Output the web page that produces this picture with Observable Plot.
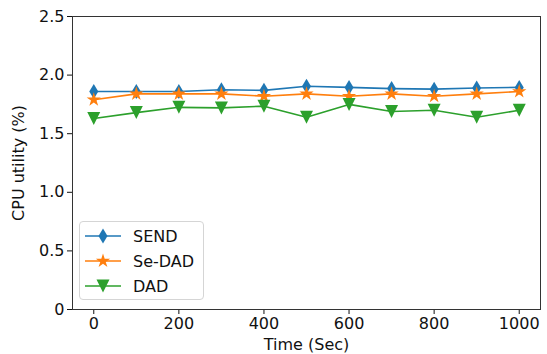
<!DOCTYPE html>
<html>
<head>
<meta charset="utf-8">
<script src="https://cdn.jsdelivr.net/npm/d3@7"></script>
<script src="https://cdn.jsdelivr.net/npm/@observablehq/plot@0.6"></script>
<style>
  body { margin: 0; background: #fff; }
  #wrap { position: relative; width: 547px; height: 354px; font-family: "DejaVu Sans", sans-serif; }
  #legend { position: absolute; left: 79px; top: 221px; width: 123px; height: 77px;
    border: 1px solid #d5d5d5; border-radius: 4px; background: rgba(255,255,255,0.85); }
  .item { position: absolute; left: 0; height: 24px; display: flex; align-items: center; font-size: 16px; color: #111; }
  .item svg { margin-left: 5px; margin-right: 12px; }
</style>
</head>
<body>
<div id="wrap"><div id="legend"></div></div>
<script>
const times = [0, 100, 200, 300, 400, 500, 600, 700, 800, 900, 1000];
const send  = [1.86, 1.86, 1.86, 1.875, 1.87, 1.905, 1.895, 1.885, 1.88, 1.89, 1.895];
const seDad = [1.79, 1.84, 1.84, 1.84, 1.82, 1.84, 1.82, 1.84, 1.82, 1.84, 1.86];
const dad   = [1.63, 1.68, 1.725, 1.72, 1.735, 1.64, 1.75, 1.69, 1.70, 1.64, 1.70];
const seriesNames = ["SEND", "Se-DAD", "DAD"];
const colors = ["#1f77b4", "#ff7f0e", "#2ca02c"];
const xTicks = [0, 200, 400, 600, 800, 1000];
const yTicks = [0, 0.5, 1.0, 1.5, 2.0, 2.5];

// custom marker shapes (matplotlib-like)
const thinDiamond = { draw(ctx, size) { const r = Math.sqrt(size / Math.PI);
  ctx.moveTo(0, -r); ctx.lineTo(0.6 * r, 0); ctx.lineTo(0, r); ctx.lineTo(-0.6 * r, 0); ctx.closePath(); } };
const star5 = { draw(ctx, size) { const r = Math.sqrt(size / Math.PI); const ri = r * 0.381966;
  for (let i = 0; i < 10; i++) { const a = -Math.PI / 2 + i * Math.PI / 5; const rr = i % 2 ? ri : r;
    const x = rr * Math.cos(a), y = rr * Math.sin(a); i ? ctx.lineTo(x, y) : ctx.moveTo(x, y); } ctx.closePath(); } };
const triDown = { draw(ctx, size) { const r = Math.sqrt(size / Math.PI);
  ctx.moveTo(0, r); ctx.lineTo(-r, -r); ctx.lineTo(r, -r); ctx.closePath(); } };
const symbols = [thinDiamond, star5, triDown];
const radii = [7.5, 7.5, 6.5];

const allValues = [send, seDad, dad];
const rows = [];
seriesNames.forEach((s, i) => times.forEach((t, j) => rows.push({ time: t, value: allValues[i][j], series: s })));

const marks = [];
seriesNames.forEach((s, i) => {
  const d = rows.filter(r => r.series === s);
  marks.push(Plot.line(d, { x: "time", y: "value", stroke: colors[i], strokeWidth: 1.6 }));
  marks.push(Plot.dot(d, { x: "time", y: "value", fill: colors[i], stroke: "none", symbol: symbols[i], r: radii[i] }));
});
marks.push(Plot.axisX({ ticks: xTicks, tickSize: 5, tickPadding: 3, tickFormat: d => String(d),
  label: "Time (Sec)", labelAnchor: "center", labelArrow: "none", labelOffset: 40 }));
marks.push(Plot.axisY({ ticks: yTicks, tickSize: 5, tickPadding: 3, tickFormat: d => d === 0 ? "0" : d.toFixed(1),
  label: "CPU utility (%)", labelAnchor: "center", labelArrow: "none", labelOffset: 60 }));
marks.push(Plot.frame({ stroke: "#333", strokeWidth: 1 }));

const chart = Plot.plot({
  width: 547, height: 354,
  marginLeft: 72, marginRight: 7, marginTop: 16, marginBottom: 45,
  x: { domain: [-50, 1050] },
  y: { domain: [0, 2.5] },
  style: { fontFamily: "DejaVu Sans, sans-serif", fontSize: "16px", color: "#111", background: "#fff" },
  marks
});
document.getElementById("wrap").prepend(chart);

// legend
const legend = document.getElementById("legend");
seriesNames.forEach((s, i) => {
  const item = document.createElement("div");
  item.className = "item";
  item.style.top = (2 + i * 25) + "px";
  const svg = d3.create("svg").attr("width", 36).attr("height", 20);
  svg.append("line").attr("x1", 0).attr("x2", 36).attr("y1", 10).attr("y2", 10).attr("stroke", colors[i]).attr("stroke-width", 1.6);
  svg.append("path").attr("transform", "translate(18,10)").attr("fill", colors[i])
    .attr("d", d3.symbol(symbols[i], radii[i] * radii[i] * Math.PI)());
  item.appendChild(svg.node());
  const label = document.createElement("span");
  label.textContent = s;
  item.appendChild(label);
  legend.appendChild(item);
});
</script>
</body>
</html>
